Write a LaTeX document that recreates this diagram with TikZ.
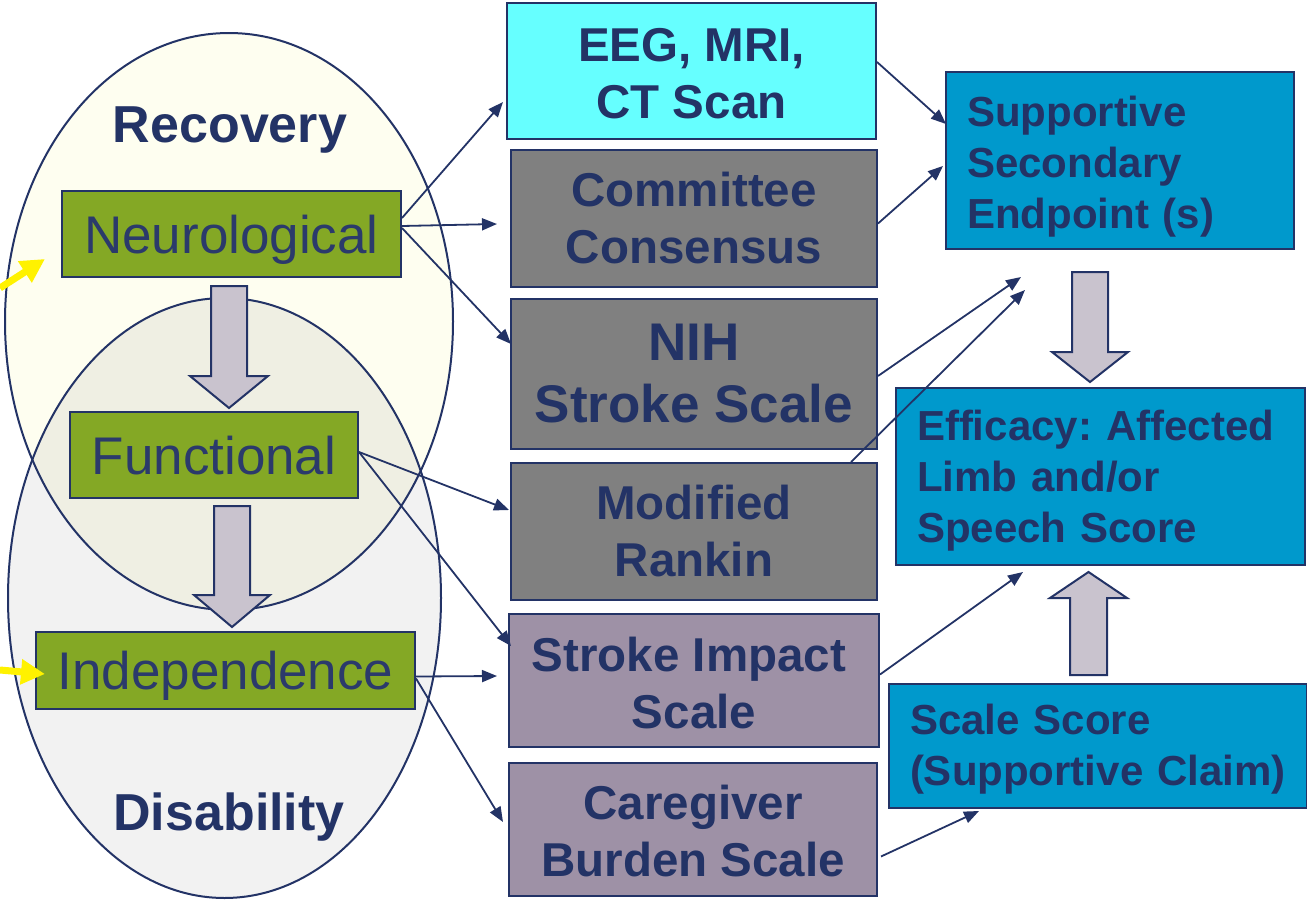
\documentclass[tikz,border=0pt]{standalone}
\usepackage{fontspec}
\setmainfont{Liberation Sans}
\usetikzlibrary{arrows.meta,calc}
\frenchspacing
\definecolor{navy}{HTML}{233366}
\definecolor{txtnavy}{HTML}{2B3A6B}
\definecolor{olive}{HTML}{84A825}
\definecolor{cyanbox}{HTML}{66FFFF}
\definecolor{greybox}{HTML}{808080}
\definecolor{mauvebox}{HTML}{9E91A6}
\definecolor{bluebox}{HTML}{0099CC}
\definecolor{blockgrey}{HTML}{C9C3CE}
\definecolor{ellyellow}{HTML}{FEFEF0}
\definecolor{ellgrey}{HTML}{F2F2F2}
\definecolor{ellmix}{HTML}{EFEFE3}
\begin{document}
\begin{tikzpicture}[x=1pt,y=-1pt,
  greenbox/.style={draw=navy,line width=2pt,fill=olive,text=txtnavy,inner sep=0pt,
    text height=38pt,text depth=0pt,font=\fontsize{53}{60}\selectfont},
  midbox/.style={draw=navy,line width=2pt,inner sep=0pt,text=navy,align=center,
    font=\bfseries\fontsize{47.5}{57}\selectfont},
  rightbox/.style={draw=navy,line width=2pt,fill=bluebox,text=navy,inner ysep=0pt,inner xsep=21pt,align=left,
    font=\bfseries\fontsize{42}{51}\selectfont},
  bigtitle/.style={text=navy,font=\bfseries\fontsize{52}{60}\selectfont,inner sep=0pt,anchor=base},
  blockarrow/.style={draw=navy,line width=2pt,fill=blockgrey,line join=miter},
  conn/.style={draw=navy,line width=1.8pt,-{Triangle[length=15pt,width=12pt]}},
  yel/.style={draw=yellow,line width=7pt,-{Triangle[length=24pt,width=24pt]}}]
\useasboundingbox (0,0) rectangle (1307,902);
% ellipses
\fill[ellyellow] (229,321.5) ellipse [x radius=224pt, y radius=288.5pt];
\fill[ellgrey] (224.5,598) ellipse [x radius=216.5pt, y radius=300pt];
\begin{scope}
\clip (229,321.5) ellipse [x radius=224pt, y radius=288.5pt];
\fill[ellmix] (224.5,598) ellipse [x radius=216.5pt, y radius=300pt];
\end{scope}
\draw[navy,line width=2pt] (229,321.5) ellipse [x radius=224pt, y radius=288.5pt];
\draw[navy,line width=2pt] (224.5,598) ellipse [x radius=216.5pt, y radius=300pt];
\node[bigtitle] (recovery) at (230,142) {Recovery};
\node[bigtitle] (disability) at (229,830) {Disability};
% block arrows
\draw[blockarrow] (211,286) -- (247,286) -- (247,376) -- (268,376) -- (229,408) -- (190,376) -- (211,376) -- cycle;
\draw[blockarrow] (214,506) -- (250,506) -- (250,595) -- (270,595) -- (232,627) -- (194,595) -- (214,595) -- cycle;
\draw[blockarrow] (1072,272) -- (1108,272) -- (1108,352) -- (1128,352) -- (1090,382) -- (1052,352) -- (1072,352) -- cycle;
\draw[blockarrow] (1070,675) -- (1107,675) -- (1107,598) -- (1127,598) -- (1088.5,572) -- (1050,598) -- (1070,598) -- cycle;
% green boxes
\node[greenbox,minimum width=339pt,minimum height=86pt] (neuro) at (231.5,234) {Neurological};
\node[greenbox,minimum width=288pt,minimum height=86pt] (func) at (214,455) {Functional};
\node[greenbox,minimum width=379pt,minimum height=77pt] (indep) at (225.5,670.5) {Independence};
% middle boxes
\node[midbox,fill=cyanbox,minimum width=369pt,minimum height=136pt] (eeg) at (691.5,71) {\rule{0pt}{38pt}EEG, MRI,\\CT Scan};
\node[midbox,fill=greybox,minimum width=366pt,minimum height=137pt] (comm) at (694,218.5) {Committee\\Consensus};
\node[midbox,fill=greybox,minimum width=366pt,minimum height=150pt,font=\bfseries\fontsize{53}{62}\selectfont] (nih) at (694,374) {NIH\\Stroke Scale};
\node[midbox,fill=greybox,minimum width=366pt,minimum height=137pt] (mod) at (694,531.5) {Modified\\Rankin};
\node[midbox,fill=mauvebox,minimum width=370pt,minimum height=133pt] (simp) at (694,680.5) {\rule{0pt}{40pt}Stroke Impact\hspace*{10pt}\\Scale};
\node[midbox,fill=mauvebox,minimum width=368pt,minimum height=133pt] (care) at (693,829.5) {\rule{0pt}{38pt}Caregiver\\Burden Scale};
% right boxes
\node[rightbox,text width=306pt,minimum height=177pt] (supp) at (1120,160) {\rule{0pt}{44pt}Supportive\\Secondary\\Endpoint (s)};
\node[rightbox,text width=367pt,minimum height=177pt] (eff) at (1100.5,476.5) {\rule{0pt}{39pt}Efficacy: Affected\\Limb and/or\\Speech Score};
\node[rightbox,text width=376pt,minimum height=124pt] (scale) at (1098,746) {\rule{0pt}{37pt}Scale Score\\(Supportive Claim)};
% free ends
\coordinate (e1) at (503,102);
\coordinate (e2) at (497,224);
\coordinate (e3) at (511,344);
\coordinate (e4) at (946,124);
\coordinate (e5) at (943,166);
\coordinate (e6) at (1021,277);
\coordinate (e7) at (1025,290);
\coordinate (e8) at (509,510);
\coordinate (e9) at (511,646);
\coordinate (e10) at (497,676);
\coordinate (e11) at (503,822);
\coordinate (e12) at (1023,572);
\coordinate (e13) at (979,811);
\coordinate (y1s) at (0,288);
\coordinate (y1e) at (45,259);
\coordinate (y2s) at (0,670);
\coordinate (y2e) at (45,674);
% connectors
\draw[conn] ($(neuro.east)+(0,-16)$) -- (e1);
\draw[conn] ($(neuro.east)+(0,-8)$) -- (e2);
\draw[conn] ($(neuro.east)+(0,-6)$) -- (e3);
\draw[conn] ($(eeg.east)+(0,-9)$) -- (e4);
\draw[conn] ($(comm.east)+(0,5)$) -- (e5);
\draw[conn] ($(nih.east)+(0,2)$) -- (e6);
\draw[conn] ($(mod.north)+(157,0)$) -- (e7);
\draw[conn] ($(func.east)+(0,-3)$) -- (e8);
\draw[conn] ($(func.east)+(0,-3)$) -- (e9);
\draw[conn] ($(indep.east)+(0,6)$) -- (e10);
\draw[conn] ($(indep.east)+(0,8)$) -- (e11);
\draw[conn] ($(simp.east)+(0,-6)$) -- (e12);
\draw[conn] ($(care.east)+(3,27)$) -- (e13);
\draw[yel] (y1s) -- (y1e);
\draw[yel] (y2s) -- (y2e);
\end{tikzpicture}
\end{document}
